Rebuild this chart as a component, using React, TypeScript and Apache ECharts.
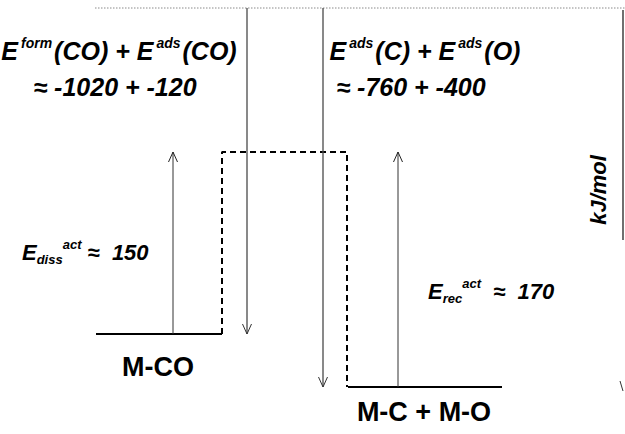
import { useEffect, useRef } from "react";
import * as echarts from "echarts";

const FONT = '"Liberation Sans", Arial, Helvetica, sans-serif';

// Schematic level heights (diagram units, gas-phase reference = 0)
const gasPhaseLevel = 0;
const transitionLevel = -144;
const stateNames = ["M-CO", "M-C + M-O"];
const stateLevels = [-326, -379];
// Reaction-coordinate extent of each surface state
const stateSpans = [
  [96, 222],
  [348, 502],
];
// Reaction-coordinate positions of the vertical arrows
const desorptionArrowX = [247, 323];
const activationArrowX = [173, 398];
const referenceSpan = [95, 625];
const axisX = 623;
const axisSpan = [-2, -232];

// Energies quoted on the diagram (kJ/mol)
const formationCO = -1020;
const adsorptionCO = -120;
const adsorptionC = -760;
const adsorptionO = -400;
const dissociationBarrier = 150;
const recombinationBarrier = 170;

type Pt = [number, number];

function seg(points: Pt[], color: string, width: number, type: any = "solid") {
  return {
    type: "line",
    data: points,
    showSymbol: false,
    symbol: "none",
    silent: true,
    clip: false,
    lineStyle: { color, width, type },
  };
}

// open "V" arrow head at the tip of a vertical arrow
function head(x: number, tip: number, pointsUp: boolean): Pt[] {
  const back = pointsUp ? tip - 10 : tip + 10;
  return [
    [x - 4.5, back],
    [x, tip],
    [x + 4.5, back],
  ];
}

export default function App() {
  const ref = useRef<HTMLDivElement>(null);

  useEffect(() => {
    document.body.style.margin = "0";
    if (!ref.current) return;
    const chart = echarts.init(ref.current, undefined, { renderer: "svg" });

    const series: any[] = [];
    // gas-phase reference line
    series.push(
      seg(
        [
          [referenceSpan[0], gasPhaseLevel],
          [referenceSpan[1], gasPhaseLevel],
        ],
        "#8a8a8a",
        1,
        [1.5, 1.5]
      )
    );
    // energy axis stub on the right
    series.push(
      seg(
        [
          [axisX, axisSpan[0]],
          [axisX, axisSpan[1]],
        ],
        "#222",
        1.3
      )
    );
    series.push(
      seg(
        [
          [axisX - 3, stateLevels[1] + 6],
          [axisX, stateLevels[1] - 4],
        ],
        "#333",
        1
      )
    );
    // surface states
    stateLevels.forEach((lv, i) => {
      series.push(
        seg(
          [
            [stateSpans[i][0], lv],
            [stateSpans[i][1], lv],
          ],
          "#000",
          2.2
        )
      );
    });
    // dashed barrier between the states
    series.push(
      seg(
        [
          [stateSpans[0][1], stateLevels[0]],
          [stateSpans[0][1], transitionLevel],
          [stateSpans[1][0] - 1, transitionLevel],
          [stateSpans[1][0] - 1, stateLevels[1]],
        ],
        "#000",
        2,
        [6, 4]
      )
    );
    // adsorption arrows from the gas-phase reference
    desorptionArrowX.forEach((x, i) => {
      series.push(
        seg(
          [
            [x, gasPhaseLevel],
            [x, stateLevels[i]],
          ],
          "#4a4a4a",
          1.3
        )
      );
      series.push(seg(head(x, stateLevels[i], false), "#333", 1));
    });
    // activation arrows up to the barrier
    activationArrowX.forEach((x, i) => {
      series.push(
        seg(
          [
            [x, stateLevels[i]],
            [x, transitionLevel],
          ],
          "#333",
          1
        )
      );
      series.push(seg(head(x, transitionLevel, true), "#222", 1));
    });

    const base = { fontFamily: FONT, fontStyle: "italic", fontWeight: "bold", fill: "#000" };
    const bigRich = {
      m: { ...base, fontSize: 25, lineHeight: 30 },
      sup: { ...base, fontSize: 14, lineHeight: 14, verticalAlign: "top", padding: [0, 2, 0, 3] },
    };
    const smallRich = {
      m: { ...base, fontSize: 22, lineHeight: 28 },
      sup: { ...base, fontSize: 13, lineHeight: 13, verticalAlign: "top" },
      sub: { ...base, fontSize: 13, lineHeight: 13, verticalAlign: "bottom" },
    };
    const txt = (x: number, y: number, text: string, rich: any, align = "center") => ({
      type: "text",
      x,
      y,
      silent: true,
      style: { text, rich, align, verticalAlign: "middle", ...base, fontSize: 25 },
    });

    const graphic: any[] = [
      txt(119, 51, "{m|E}{sup|form}{m|(CO) + E}{sup|ads}{m|(CO)}", bigRich),
      txt(115, 87, `{m|≈ ${formationCO} + ${adsorptionCO}}`, bigRich),
      txt(425, 51, "{m|E}{sup|ads}{m|(C) + E}{sup|ads}{m|(O)}", bigRich),
      txt(411, 87, `{m|≈ ${adsorptionC} + ${adsorptionO}}`, bigRich),
      txt(22, 252, `{m|E}{sub|diss}{sup|act}{m| ≈  ${dissociationBarrier}}`, smallRich, "left"),
      txt(428, 291, `{m|E}{sub|rec}{sup|act}{m|  ≈  ${recombinationBarrier}}`, smallRich, "left"),
      {
        type: "text",
        x: 598,
        y: 190,
        rotation: Math.PI / 2,
        silent: true,
        style: {
          text: "kJ/mol",
          ...base,
          fontSize: 22,
          align: "center",
          verticalAlign: "middle",
        },
      },
      ...stateNames.map((name, i) => ({
        type: "text",
        x: (stateSpans[i][0] + stateSpans[i][1]) / 2 - 1,
        y: 367 + (i === 0 ? 0 : 45),
        silent: true,
        style: {
          text: name,
          fontFamily: FONT,
          fontWeight: "bold",
          fontSize: 27,
          fill: "#000",
          align: "center",
          verticalAlign: "middle",
        },
      })),
    ];

    chart.setOption({
      animation: false,
      backgroundColor: "#fff",
      grid: { left: 0, right: 0, top: 0, bottom: 0 },
      xAxis: { type: "value", min: 0, max: 625, show: false },
      yAxis: { type: "value", min: -426, max: 8, show: false },
      series,
      graphic,
    });

    return () => chart.dispose();
  }, []);

  return <div ref={ref} style={{ width: 625, height: 434 }} />;
}
